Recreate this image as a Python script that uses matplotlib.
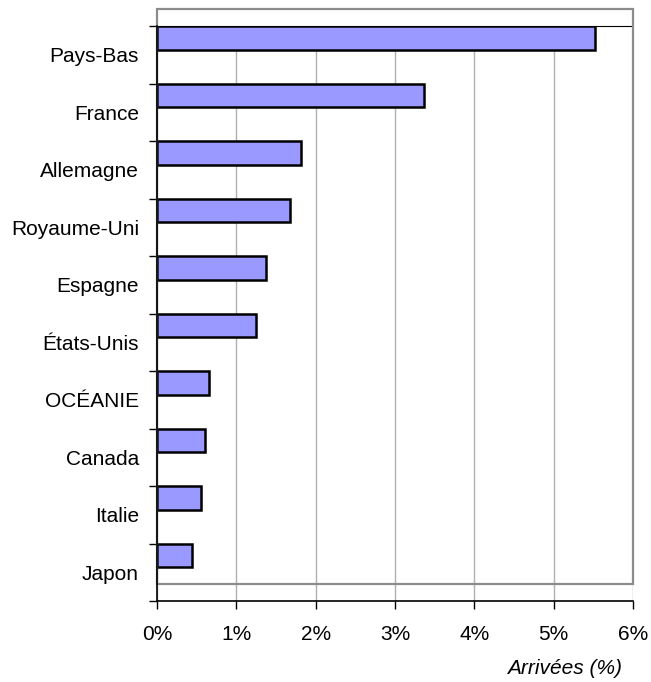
import matplotlib.pyplot as plt
from matplotlib.patches import Rectangle
from matplotlib.ticker import FixedLocator, PercentFormatter

plt.rcParams['font.family'] = ['Liberation Sans', 'DejaVu Sans']

# arrivals share by origin (%), top to bottom
countries = ["Pays-Bas", "France", "Allemagne", "Royaume-Uni", "Espagne",
             "États-Unis", "OCÉANIE", "Canada", "Italie", "Japon"]
arrivals = [5.52, 3.36, 1.82, 1.68, 1.38, 1.25, 0.66, 0.61, 0.55, 0.44]

fig = plt.figure(figsize=(6.51, 6.82), dpi=100)
ax = fig.add_axes([157 / 651, 1 - 601 / 682, (633 - 157) / 651, (601 - 26) / 682])

n = len(countries)
pos = list(range(n))
# bars sit at the top of each category band (Excel-like look)
ax.barh(pos, arrivals, height=0.417, align='edge', color='#9999FF',
        edgecolor='black', linewidth=1.8, zorder=3)

ax.set_xlim(0, 6)
ax.set_ylim(n, 0)

# gridlines
ax.set_axisbelow(True)
ax.xaxis.grid(True, color='#b0b0b0', linewidth=1.0)
ax.set_xticks(range(0, 7))
ax.xaxis.set_major_formatter(PercentFormatter(decimals=0))
ax.tick_params(axis='x', length=6, width=1, direction='out', pad=11,
               labelsize=15, color='black')

# category ticks at band edges, labels at band centres
ax.yaxis.set_major_locator(FixedLocator(range(0, n + 1)))
ax.yaxis.set_minor_locator(FixedLocator([p + 0.5 for p in pos]))
ax.set_yticklabels([], minor=False)
ax.set_yticklabels(countries, minor=True)
ax.tick_params(axis='y', which='major', length=6, width=1, direction='out')
ax.tick_params(axis='y', which='minor', length=0, pad=13, labelsize=15)

for side in ['left', 'bottom']:
    ax.spines[side].set_color('black')
    ax.spines[side].set_linewidth(1.2)
    ax.spines[side].set_zorder(5)
ax.spines['top'].set_color('black')
ax.spines['top'].set_linewidth(0.8)
ax.spines['right'].set_visible(False)

# grey plot-area frame, shifted up a bit like the original
box = Rectangle((0, -0.296), 6, n, fill=False, edgecolor='#8c8c8c',
                linewidth=1.6, clip_on=False, zorder=4)
ax.add_patch(box)

fig.text(622 / 651, 1 - 668 / 682, "Arrivées (%)", ha='right', va='center',
         fontsize=15, style='italic')

plt.savefig("out.png", dpi=100)
